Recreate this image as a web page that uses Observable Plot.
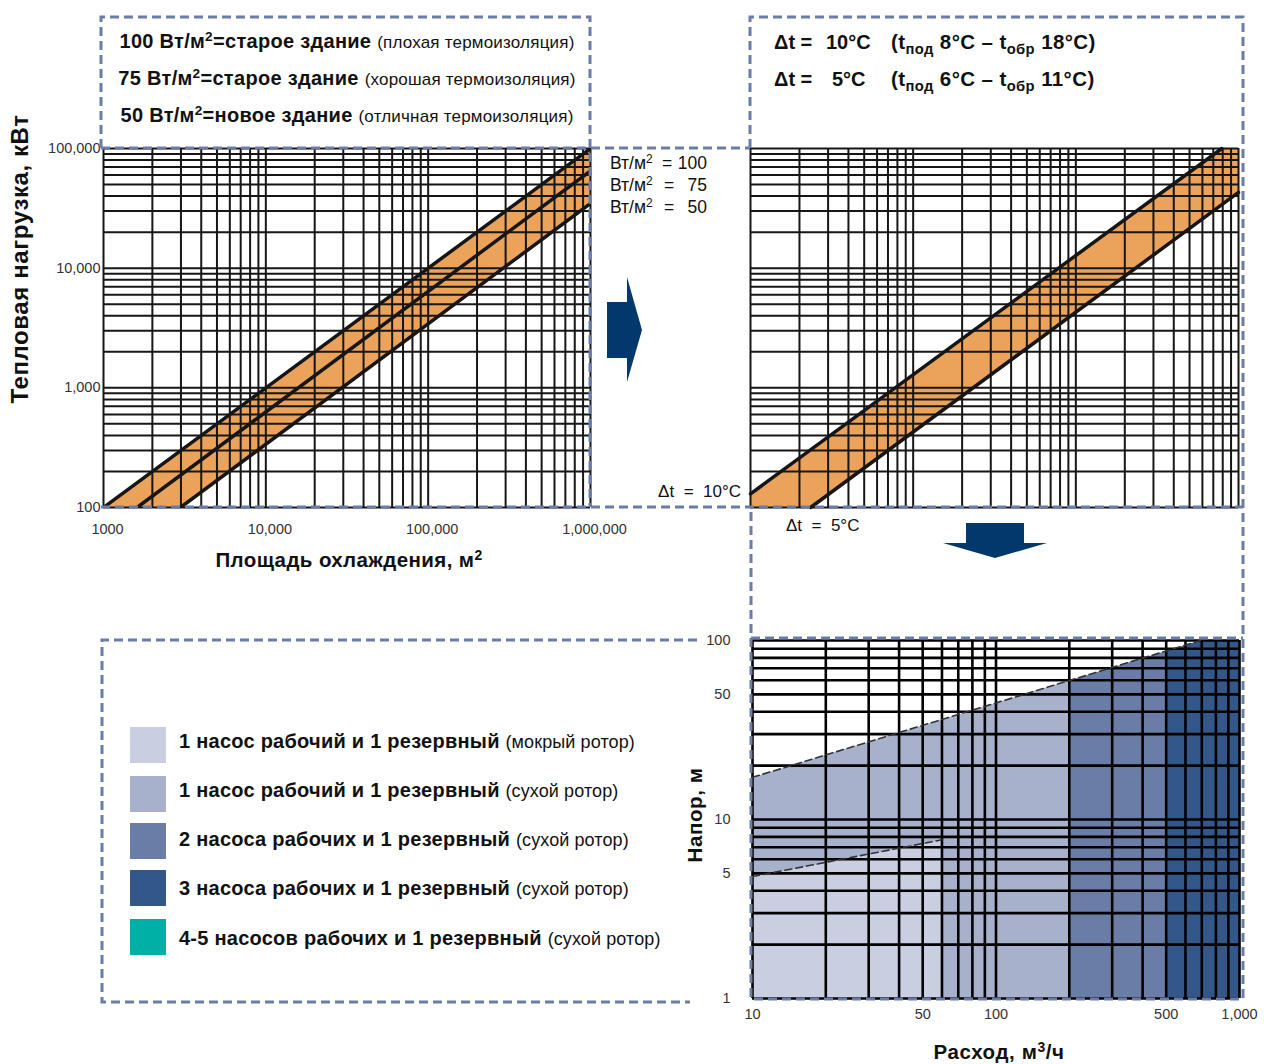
<!DOCTYPE html>
<html><head><meta charset="utf-8">
<script src="https://cdn.jsdelivr.net/npm/d3@7"></script>
<script src="https://cdn.jsdelivr.net/npm/@observablehq/plot@0.6"></script>
<style>
body{margin:0;background:#fff;font-family:"Liberation Sans",Arial,Helvetica,sans-serif;}
#page{position:relative;width:1264px;height:1064px;overflow:hidden;background:#fff;}
.abs{position:absolute;white-space:nowrap;line-height:1;}
.abs sup{font-size:0.68em;vertical-align:0.5em;line-height:0;}
.abs sub{font-size:0.72em;vertical-align:-0.35em;line-height:0;}
.n{font-weight:normal;}
.chart{position:absolute;}
#overlay{position:absolute;left:0;top:0;pointer-events:none;}
</style></head>
<body><div id="page"></div>
<script>
// ---------- DATA ----------
// Chart 1: cooling area (m²) → heat load (kW)
const areaDomain = [1000, 1000000];
const loadDomain = [100, 100000];
const areaTicks = [1000, 10000, 100000, 1000000];
const areaTickLabels = ["1000", "10,000", "100,000", "1,000,000"];
const loadTicks = [100, 1000, 10000, 100000];
const loadTickLabels = ["100", "1,000", "10,000", "100,000"];
const wattsPerM2 = [100, 75, 50];
const loadLineStart = [[1000, 100], [1610, 100], [2980, 100]];          // where each line leaves the 100 kW floor
const loadLineEnd = [[1000000, 100000], [1000000, 65000], [1000000, 34700]]; // at 1,000,000 m²

// Chart 2: heat load → flow for two Δt
const deltaT = [10, 5];
const dtLineStart = [[1000, 130], [2340, 100]];
const dtLineEnd = [[790000, 100000], [1000000, 43000]];

// Chart 3: flow (m³/h) vs head (m) pump selection zones
const flowDomain = [10, 1000];
const headDomain = [1, 100];
const flowTicks = [10, 50, 100, 500, 1000];
const flowTickLabels = ["10", "50", "100", "500", "1,000"];
const headTicks = [1, 5, 10, 50, 100];
const headTickLabels = ["1", "5", "10", "50", "100"];
const pumpCategories = [
  ["1 насос рабочий и 1 резервный", "(мокрый ротор)"],
  ["1 насос рабочий и 1 резервный", "(сухой ротор)"],
  ["2 насоса рабочих и 1 резервный", "(сухой ротор)"],
  ["3 насоса рабочих и 1 резервный", "(сухой ротор)"],
  ["4-5 насосов рабочих и 1 резервный", "(сухой ротор)"]
];
const pumpColors = ["#C9CEE1", "#A8B1CC", "#6A7DA7", "#34578A", "#00AFA6"];
const dryZoneFlowBreaks = [10, 200, 500, 1000];   // categories 2,3,4 by flow
const wetRotorLimit = [[10, 4.8], [60, 7.7]];      // upper edge of wet-rotor zone
const wetRotorMaxFlow = 60;
const upperLimit = [[10, 17.2], [690, 100]];        // upper edge of all zones

// ---------- STYLE ----------
const ORANGE = "#EBA25A", INK = "#161616", DASH = "#6A7CA8", NAVY = "#01396C";
const FONT = '"Liberation Sans", Arial, Helvetica, sans-serif';
const page = document.getElementById("page");

function logGrid(lo, hi) {
  const out = [];
  for (let d = lo; d < hi - 1e-9; d *= 10) for (let m = 1; m < 10; m++) out.push(d * m);
  out.push(hi);
  return out;
}
const xy = {x: d => d[0], y: d => d[1]};
function place(svg, left, top) {
  svg.classList.add("chart");
  svg.style.left = left + "px"; svg.style.top = top + "px";
  page.appendChild(svg);
}
function txt(html, x, y, o = {}) {
  const d = document.createElement("div");
  d.className = "abs";
  d.innerHTML = html;
  d.style.left = x + "px"; d.style.top = y + "px";
  d.style.fontSize = (o.size || 16) + "px";
  d.style.fontWeight = o.bold ? "bold" : "normal";
  d.style.color = o.color || "#111";
  if (o.ls) d.style.letterSpacing = o.ls + "px";
  const tx = o.anchor === "middle" ? "-50%" : o.anchor === "end" ? "-100%" : "0";
  d.style.transform = `translate(${tx},-50%)` + (o.rotate ? ` rotate(${o.rotate}deg)` : "");
  page.appendChild(d);
  return d;
}
const baseStyle = {fontFamily: FONT, fontSize: "14.5px", color: "#333", overflow: "visible", background: "transparent"};

// ---------- CHART 1 ----------
const areaLab = new Map(areaTicks.map((t, i) => [t, areaTickLabels[i]]));
const loadLab = new Map(loadTicks.map((t, i) => [t, loadTickLabels[i]]));
const loadBand = [loadLineStart[0], loadLineEnd[0], loadLineEnd[2], loadLineStart[2]];
const c1 = Plot.plot({
  width: 557, height: 429, marginLeft: 60, marginRight: 10, marginTop: 10, marginBottom: 60,
  style: baseStyle,
  x: {type: "log", domain: areaDomain},
  y: {type: "log", domain: loadDomain},
  marks: [
    Plot.line(loadBand, {...xy, fill: ORANGE, stroke: "none"}),
    Plot.ruleX(logGrid(areaDomain[0], areaDomain[1]), {stroke: INK, strokeWidth: 2}),
    Plot.ruleY(logGrid(loadDomain[0], loadDomain[1]), {stroke: INK, strokeWidth: 2}),
    ...wattsPerM2.map((w, i) => Plot.line([loadLineStart[i], loadLineEnd[i]], {...xy, stroke: INK, strokeWidth: 3.5, clip: true})),
    Plot.axisX({ticks: areaTicks, tickFormat: d => areaLab.get(d), tickSize: 0, tickPadding: 16, label: null, fill: "#333", dx: 4}),
    Plot.axisY({ticks: loadTicks, tickFormat: d => loadLab.get(d), tickSize: 0, tickPadding: 3, label: null, fill: "#333"})
  ]
});
place(c1, 43, 138);

// ---------- CHART 2 ----------
const dtBand = [[areaDomain[0], loadDomain[0]], dtLineStart[0], dtLineEnd[0], [areaDomain[1], loadDomain[1]], dtLineEnd[1], dtLineStart[1]];
const c2 = Plot.plot({
  width: 508, height: 379, marginLeft: 10, marginRight: 10, marginTop: 10, marginBottom: 10,
  style: baseStyle,
  x: {type: "log", domain: areaDomain, axis: null},
  y: {type: "log", domain: loadDomain, axis: null},
  marks: [
    Plot.line(dtBand, {...xy, fill: ORANGE, stroke: "none"}),
    Plot.ruleX(logGrid(areaDomain[0], areaDomain[1]), {stroke: INK, strokeWidth: 2}),
    Plot.ruleY(logGrid(loadDomain[0], loadDomain[1]), {stroke: INK, strokeWidth: 2}),
    ...deltaT.map((t, i) => Plot.line([dtLineStart[i], dtLineEnd[i]], {...xy, stroke: INK, strokeWidth: 3.5}))
  ]
});
place(c2, 740, 138);

// ---------- CHART 3 ----------
const zones = dryZoneFlowBreaks.slice(0, -1).map((f, i) => ({
  f1: f, f2: dryZoneFlowBreaks[i + 1], h1: headDomain[0], h2: headDomain[1], color: pumpColors[i + 1]
}));
const wetZone = [[flowDomain[0], headDomain[0]], ...wetRotorLimit, [wetRotorMaxFlow, headDomain[0]]];
const mask = [...upperLimit, [flowDomain[0], headDomain[1]]];
const flowLab = new Map(flowTicks.map((t, i) => [t, flowTickLabels[i]]));
const headLab = new Map(headTicks.map((t, i) => [t, headTickLabels[i]]));
const c3 = Plot.plot({
  width: 562, height: 398, marginLeft: 60, marginRight: 15, marginTop: 10, marginBottom: 30,
  style: baseStyle,
  x: {type: "log", domain: flowDomain},
  y: {type: "log", domain: headDomain},
  marks: [
    Plot.rect(zones, {x1: "f1", x2: "f2", y1: "h1", y2: "h2", fill: "color"}),
    Plot.line(wetZone, {...xy, fill: pumpColors[0], stroke: "none"}),
    Plot.line(mask, {...xy, fill: "#fff", stroke: "none"}),
    Plot.ruleX(logGrid(flowDomain[0], flowDomain[1]), {stroke: "#000", strokeWidth: 2.6}),
    Plot.ruleY(logGrid(headDomain[0], headDomain[1]), {stroke: "#000", strokeWidth: 2.6}),
    Plot.line(upperLimit, {...xy, stroke: "#333", strokeWidth: 1.6, strokeDasharray: "7,4"}),
    Plot.line(wetRotorLimit, {...xy, stroke: "#333", strokeWidth: 1.6, strokeDasharray: "7,4"}),
    Plot.axisX({ticks: flowTicks, tickFormat: d => flowLab.get(d), tickSize: 0, tickPadding: 10, label: null, fill: "#333", dx: 0}),
    Plot.axisY({ticks: headTicks, tickFormat: d => headLab.get(d), tickSize: 0, tickPadding: 22, label: null, fill: "#333"})
  ]
});
place(c3, 692, 630);

// ---------- OVERLAY: dashed frames and arrows ----------
const ov = d3.select(page).append("svg").attr("id", "overlay").attr("width", 1264).attr("height", 1064);
const dashPaths = [
  [[101, 148], [101, 17], [590, 17], [590, 507]],
  [[101, 148], [750, 148]],
  [[101, 507], [1243, 507]],
  [[750, 148], [750, 17], [1243, 17], [1243, 999], [751, 999], [751, 507]],
  [[751, 638], [1243, 638]],
  [[697, 640], [102, 640], [102, 1002], [690, 1002]]
];
ov.selectAll("path.d").data(dashPaths).join("path")
  .attr("d", d => d3.line()(d)).attr("fill", "none").attr("stroke", DASH)
  .attr("stroke-width", 3).attr("stroke-dasharray", "9,5");
const arrows = [
  [[607, 302], [627, 302], [627, 277], [642, 330], [627, 382], [627, 358], [607, 358]],
  [[966, 523], [1024, 523], [1024, 543], [1047, 543], [995, 558], [943, 543], [966, 543]]
];
ov.selectAll("path.a").data(arrows).join("path")
  .attr("d", d => d3.line()(d) + "Z").attr("fill", NAVY);

// ---------- TEXT ----------
const headerDesc = [
  ["старое здание", "(плохая термоизоляция)"],
  ["старое здание", "(хорошая термоизоляция)"],
  ["новое здание", "(отличная термоизоляция)"]
];
const headerY = [41, 78, 115];
wattsPerM2.forEach((w, i) => {
  txt(`${w} Вт/м<sup>2</sup>=${headerDesc[i][0]} <span class="n" style="font-size:17px;letter-spacing:0.2px">${headerDesc[i][1]}</span>`,
      347, headerY[i], {anchor: "middle", size: 20, bold: true, ls: 0.3});
});
// line labels near chart 1 end
const lblY = [164, 186, 208];
wattsPerM2.forEach((w, i) => {
  txt("Вт/м<sup>2</sup>", 610, lblY[i], {size: 17.5});
  txt("=", 662 + (i ? 2 : 0), lblY[i], {size: 17.5});
  txt(String(w), 707, lblY[i], {size: 17.5, anchor: "end"});
});
// Δt header
const dtSupply = [8, 6], dtReturn = [18, 11];
const dtY = [42, 79];
deltaT.forEach((t, i) => {
  txt("Δt&nbsp;=", 774, dtY[i], {size: 20, bold: true});
  txt(`${t}°C`, t >= 10 ? 826 : 832, dtY[i], {size: 20, bold: true});
  txt(`(t<sub>под</sub> ${dtSupply[i]}°C – t<sub>обр</sub> ${dtReturn[i]}°C)`, 891, dtY[i], {size: 20.5, bold: true, ls: 0.4});
});
txt(`Δt&nbsp; =&nbsp; ${deltaT[0]}°C`, 741, 491, {size: 17});
txt(`Δt&nbsp; =&nbsp; ${deltaT[1]}°C`, 786, 525, {size: 17});
// fix right alignment of first label
page.lastChild.previousSibling.style.transform = "translate(-100%,-50%)";
// axis titles
txt("Тепловая нагрузка, кВт", 20, 259, {size: 24, bold: true, anchor: "middle", rotate: -90, ls: 0.6});
txt("Площадь охлаждения, м<sup>2</sup>", 349, 560, {size: 20.5, bold: true, anchor: "middle", ls: 0.4});
txt("Напор, м", 695, 815, {size: 20.5, bold: true, anchor: "middle", rotate: -90, ls: 0.6});
txt("Расход, м<sup>3</sup>/ч", 999, 1052, {size: 20.5, bold: true, anchor: "middle", ls: 0.6});
// legend
const swatchY = [745, 794, 841, 888, 937];
const legTextY = [741, 790, 839, 888, 938];
pumpCategories.forEach((c, i) => {
  const sw = document.createElement("div");
  sw.className = "abs";
  Object.assign(sw.style, {left: "130px", top: (swatchY[i] - 18) + "px", width: "36px", height: "36px", background: pumpColors[i]});
  page.appendChild(sw);
  txt(`${c[0]} <span class="n" style="font-size:18px;letter-spacing:0.1px">${c[1]}</span>`, 179, legTextY[i], {size: 20, bold: true, ls: 0.25});
});
</script>
</body></html>
